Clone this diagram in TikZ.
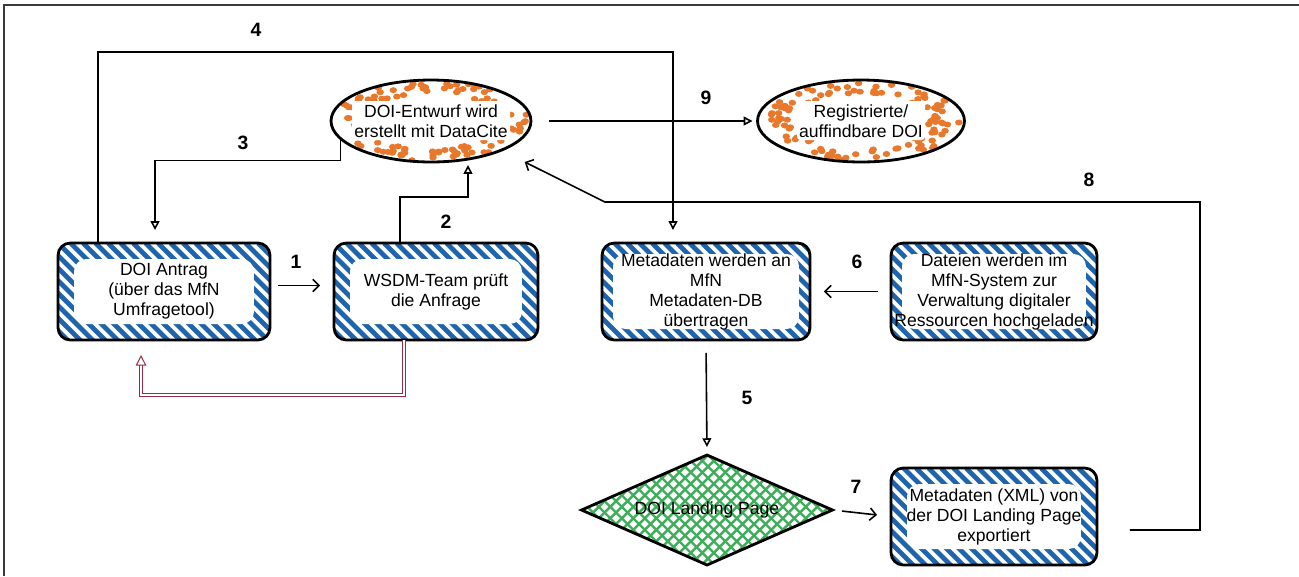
\documentclass[tikz,border=0pt]{standalone}
\usepackage{fontspec}
\setmainfont{Liberation Sans}
\usetikzlibrary{shapes.geometric,arrows.meta,calc}
\definecolor{hblue}{HTML}{1F65AD}
\definecolor{dotorange}{HTML}{E8782C}
\definecolor{hgreen}{HTML}{3FAE5A}
\definecolor{redline}{HTML}{9A2A45}
\definecolor{framegray}{HTML}{3A3A3A}
\newcommand{\boxfont}{\fontsize{10}{11.4}\selectfont}
\newcommand{\numfont}{\fontsize{11}{13}\selectfont\bfseries}
\tikzset{
  hatchbox/.style={draw=black, line width=1.6pt, rounded corners=7pt,
    minimum height=1.94cm, inner sep=0pt, outer sep=0pt, align=center, font=\boxfont,
    path picture={
      \coordinate (pnw) at (path picture bounding box.north west);
      \coordinate (pse) at (path picture bounding box.south east);
      \foreach \k in {-11,...,20}{
        \draw[draw=hblue, line width=2.8pt] ($(pnw)+(\k*12.5,0)$) -- ++(125,125);
      }
      \fill[white] ($(pnw)+(#1,#1)$) rectangle ($(pse)+(-#1,-#1)$);
    }},
  dotell/.style={ellipse, draw=black, line width=1.6pt, minimum height=1.64cm,
    inner ysep=0pt, outer sep=0pt, align=center, font=\boxfont,
    path picture={
      \coordinate (pc) at (path picture bounding box.center);
      \foreach \i in {1,...,110}{
        \pgfmathsetmacro\ang{360*rnd}
        \pgfmathsetmacro\rr{0.68+0.30*rnd}
        \fill[dotorange] ($(pc)+({\rr*100*cos(\ang)},{\rr*41*sin(\ang)})$) ellipse (0.075cm and 0.06cm);
      }
      \fill[white, rounded corners=2pt] ($(pc)+(-#1,-20)$) rectangle ($(pc)+(#1,19)$);
    }},
  gdiamond/.style={diamond, draw=black, line width=1.6pt, aspect=2.28,
    minimum width=5.02cm, minimum height=2.2cm, inner sep=0pt, outer sep=0pt, font=\boxfont,
    path picture={
      \coordinate (dnw) at (path picture bounding box.north west);
      \foreach \k in {-12,...,33}{
        \draw[draw=hgreen, line width=1.4pt] ($(dnw)+(\k*11.5,0)$) -- ++(125,125);
        \draw[draw=hgreen, line width=1.4pt] ($(dnw)+(\k*11.5,0)$) -- ++(-125,125);
      }
    }},
  conn/.style={draw=black, line width=0.9pt},
  tri/.style={-{Triangle[open, length=5pt, width=5pt]}},
  barb/.style={-{Straight Barb[length=3.5pt, width=7pt]}},
  redl/.style={draw=redline, double=white, double distance=1pt, line width=0.55pt},
  num/.style={font=\numfont, inner sep=0pt}
}
\begin{document}
\begin{tikzpicture}[x=0.02cm, y=-0.02cm]
\pgfmathsetseed{11}
\useasboundingbox (0,0) rectangle (1299,576);
% frame
\draw[framegray, line width=1pt] (1299,5) -- (4,5) -- (4,576);

% nodes
\node[hatchbox=16, minimum width=4.24cm] (A) at (164,291.5) {DOI Antrag\\(über das MfN\\Umfragetool)};
\node[hatchbox=16, minimum width=4.08cm] (B) at (436,291.5) {WSDM-Team prüft\\die Anfrage};
\node[hatchbox=11, minimum width=4.16cm] (C) at (706,291.5) {Metadaten werden an\\MfN\\Metadaten-DB\\übertragen};
\node[hatchbox=11, minimum width=4.12cm] (D) at (994,291.5) {Dateien werden im\\MfN-System zur\\Verwaltung digitaler\\Ressourcen hochgeladen};
\node[hatchbox=16, minimum width=4.12cm] (F) at (994,516.5) {Metadaten (XML) von\\der DOI Landing Page\\exportiert};
\node[dotell=79, minimum width=4.0cm, inner xsep=-0.14cm] (E1) at (431,121) {DOI-Entwurf wird\\erstellt mit DataCite};
\node[dotell=64, minimum width=4.14cm, inner xsep=0pt] (E2) at (861,121) {Registrierte/\\auffindbare DOI};
\node[gdiamond] (L) at (707,510) {DOI Landing Page};

% number labels
\node[num] (n1) at (296,262) {1};
\node[num] (n2) at (446,222) {2};
\node[num] (n3) at (243,143) {3};
\node[num] (n4) at (256,30) {4};
\node[num] (n5) at (747,398) {5};
\node[num] (n6) at (857,262) {6};
\node[num] (n7) at (856,487) {7};
\node[num] (n8) at (1089,180) {8};
\node[num] (n9) at (706,98) {9};

% connectors
\draw[conn, barb, shorten <=0.16cm, shorten >=0.28cm] ($(A.east)+(0,-6)$) -- ($(B.west)+(0,-6)$);
\draw[conn, tri, shorten >=0.06cm] ($(B.north west)+(66,0)$) -- ++(0,-46) -| ($(E1.south)+(37,0)$);
\draw[conn, tri, shorten >=0.26cm] (E1.191) -- ++(0,22) -| ($(A.north west)+(97,0)$);
\draw[conn, tri, shorten >=0.26cm] ($(A.north west)+(40,0)$) -- ++(0,-191) -| ($(C.north)+(-33,0)$);
\draw[conn, tri, shorten <=0.26cm, shorten >=0.16cm] (C.south) -- (L.north);
\draw[conn, barb, shorten <=0.26cm, shorten >=0.28cm] (D.west) -- (C.east);
\draw[conn, barb, shorten <=0.19cm, shorten >=0.28cm] (L.east) -- (F.west);
\draw[conn, barb] ($(F.east)+(33,13.5)$) -- ++(70,0) -- ++(0,-328) -- ++(-595,0) -- ($(E1.south east)+(23,12)$);
\draw[conn, tri, shorten <=0.36cm, shorten >=0.1cm] (E1.east) -- (E2.west);
\draw[redl, -{Triangle[open, length=6pt, width=6pt]}, shorten >=0.3cm] ($(B.south west)+(70,0)$) -- ++(0,55) -| ($(A.south west)+(83,0)$);
\end{tikzpicture}
\end{document}
